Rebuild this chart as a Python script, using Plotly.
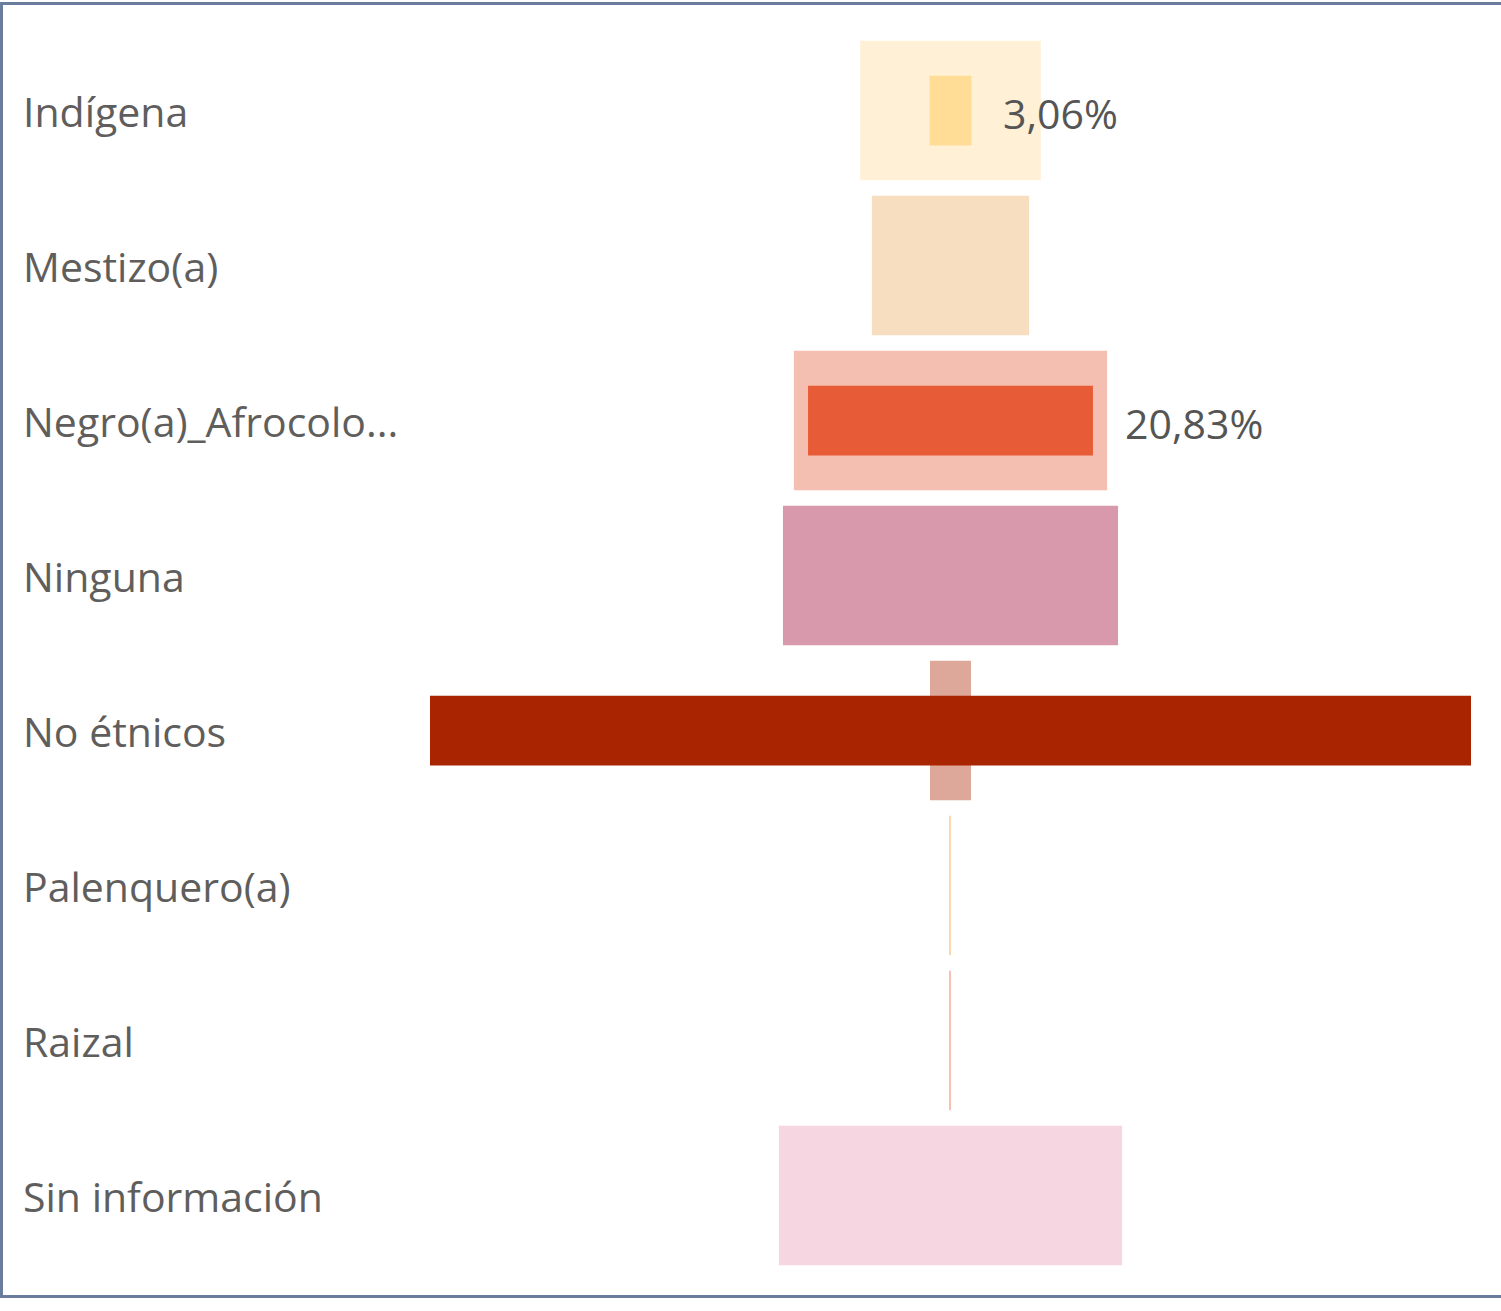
import plotly.graph_objects as go

categories = ["Indígena", "Mestizo(a)", "Negro(a)_Afrocolo...", "Ninguna",
              "No étnicos", "Palenquero(a)", "Raizal", "Sin información"]
# wide light bars (share of population, %)
outer_values = [13.2, 11.5, 22.9, 24.5, 3.0, 0.08, 0.08, 25.1]
# narrow dark bars (share of cases, %)
inner_values = [3.06, 0, 20.83, 0, 76.11, 0, 0, 0]
inner_labels = ["3,06%", "", "20,83%", "", "", "", "", ""]

outer_colors = ["#FFF0D6", "#F8DEC0", "#F4BEB0", "#D999AD",
                "#DDA89A", "#FBD9B0", "#F7C0B4", "#F6D6E0"]
inner_colors = ["#FFDD96", "#F8DEC0", "#E75B36", "#D999AD",
                "#A92400", "#FBD9B0", "#F7C0B4", "#F6D6E0"]

FONT = "Open Sans"
GREY = "#605E5C"

fig = go.Figure()
fig.add_trace(go.Bar(
    y=categories,
    x=outer_values,
    base=[-v / 2 for v in outer_values],
    orientation="h",
    width=0.9,
    marker=dict(color=outer_colors, line=dict(width=0)),
    hoverinfo="skip",
))
fig.add_trace(go.Bar(
    y=categories,
    x=inner_values,
    base=[-v / 2 for v in inner_values],
    orientation="h",
    width=0.45,
    marker=dict(color=inner_colors, line=dict(width=0)),
    hoverinfo="skip",
))

half = max(inner_values + outer_values) / 2
fig.update_layout(
    width=1501,
    height=1311,
    barmode="overlay",
    showlegend=False,
    plot_bgcolor="white",
    paper_bgcolor="white",
    margin=dict(l=430, r=30, t=33, b=38),
    xaxis=dict(range=[-half, half], visible=False, fixedrange=True),
    yaxis=dict(autorange="reversed", visible=False, fixedrange=True),
)

# category labels, left aligned
for cat in categories:
    fig.add_annotation(
        x=(21 - 430) / 1041, xref="paper", y=cat, yref="y",
        text=cat, showarrow=False, xanchor="left", yanchor="middle",
        font=dict(family=FONT, size=41, color=GREY),
    )

# data labels to the right of the inner bars
for cat, v, lab in zip(categories, inner_values, inner_labels):
    if lab:
        fig.add_annotation(
            x=v / 2, y=cat, text=lab, showarrow=False,
            xanchor="left", yanchor="middle", xshift=30, yshift=-2,
            font=dict(family=FONT, size=41, color="#555555"),
        )

# outer frame (left, top, bottom edges; right edge runs off the page)
fig.add_shape(
    type="rect", xref="paper", yref="paper",
    x0=(1.5 - 430) / 1041, x1=(1530 - 430) / 1041,
    y0=-(1296.5 - 1273) / 1240, y1=1 + (33 - 3.5) / 1240,
    line=dict(color="#6B7D9C", width=3),
    fillcolor="rgba(0,0,0,0)", layer="below",
)

fig.write_html(
    "out.html",
    config={"displayModeBar": False},
    post_script="document.body.style.margin='0';document.body.style.overflow='hidden';",
)
